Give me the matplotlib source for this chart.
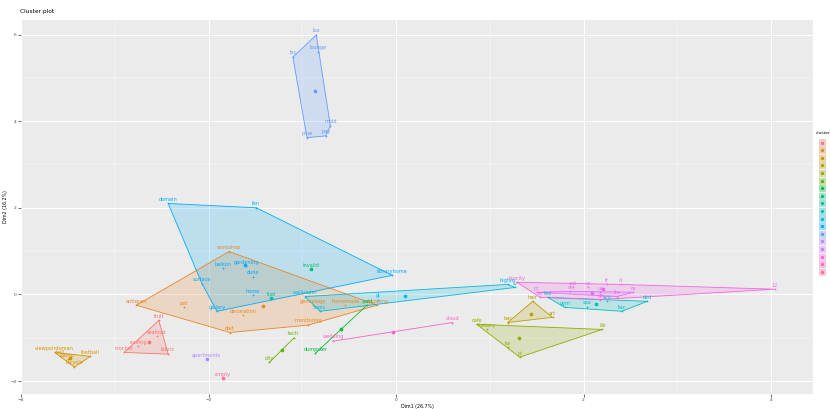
import numpy as np
import matplotlib
matplotlib.use("Agg")
import matplotlib.pyplot as plt
from matplotlib.patches import Polygon, Rectangle

# ---- data: word, Dim1, Dim2, cluster ----
words = [
    "fruit", "seafood", "roofing", "crochet", "fabric",
    "workshop", "antiques", "pet", "decoration", "diet", "monitoring",
    "genealogy", "homemade", "shopping",
    "viewpointoman", "ball", "camp", "football", "bicycle",
    "hair", "bar", "art",
    "cafe", "bakery", "bb", "pi", "tw",
    "tech", "city",
    "yard", "dumpster",
    "invalid",
    "fuel",
    "tea", "gym", "spa", "tax", "dvd", "eco",
    "wallpaper", "tools", "gl", "bigfan", "tv",
    "domain", "fan", "libraryhome", "gallery", "balkon", "gardening",
    "dune", "surface", "home",
    "lux", "loc", "lounge", "mold", "pay", "pine",
    "apartments",
    "pc", "ok", "ux", "fm", "os",
    "bigcity", "eat", "cc", "fr", "cl", "12", "re", "go",
    "wedding", "cloud",
    "empty",
]
dim1 = [
    -2.53, -2.55, -2.75, -2.90, -2.43,
    -1.78, -2.77, -2.26, -1.63, -1.77, -0.94,
    -0.89, -0.54, -0.20,
    -3.64, -3.58, -3.50, -3.26, -3.43,
    1.46, 1.19, 1.67,
    0.86, 0.97, 2.20, 1.32, 1.19,
    -1.09, -1.35,
    -0.31, -0.86,
    -0.91,
    -1.33,
    1.62, 1.80, 2.04, 2.41, 2.68, 2.25,
    -0.97, -0.81, -0.19, 1.19, 1.27,
    -2.43, -1.49, -0.04, -1.91, -1.85, -1.60,
    -1.53, -2.07, -1.53,
    -0.85, -1.10, -0.83, -0.70, -0.75, -0.95,
    -2.02,
    1.50, 1.86, 2.18, 2.36, 2.53,
    1.29, 1.89, 2.05, 2.25, 2.40, 4.04, 1.54, 2.18,
    -0.67, 0.60,
    -1.85,
]
dim2 = [
    -0.60, -0.97, -1.20, -1.34, -1.38,
    0.99, -0.25, -0.30, -0.48, -0.88, -0.71,
    -0.25, -0.25, -0.25,
    -1.34, -1.43, -1.50, -1.43, -1.68,
    -0.16, -0.65, -0.53,
    -0.69, -0.81, -0.81, -1.45, -1.22,
    -1.01, -1.57,
    -0.25, -1.36,
    0.58,
    -0.09,
    -0.07, -0.30, -0.28, -0.39, -0.16, -0.16,
    -0.05, -0.39, -0.12, 0.23, 0.16,
    2.10, 2.00, 0.44, -0.39, 0.60, 0.65,
    0.41, 0.25, -0.02,
    5.99, 5.48, 5.60, 3.89, 3.66, 3.62,
    -1.50,
    0.05, 0.07, 0.05, -0.05, 0.05,
    0.28, 0.16, 0.16, 0.23, 0.23, 0.12, -0.07, -0.12,
    -1.08, -0.65,
    -1.94,
]
cluster = (
    [1] * 5 + [2] * 9 + [3] * 5 + [4] * 3 + [5] * 5 + [6] * 2 + [7] * 2
    + [8] + [9] + [10] * 6 + [11] * 5 + [12] * 9 + [13] * 6 + [14]
    + [15] * 5 + [16] * 8 + [17] * 2 + [18]
)
n_clusters = 18
x_ticks = [-4, -2, 0, 2, 4]
y_ticks = [-2, 0, 2, 4, 6]


def hcl_to_hex(h, c=100.0, l=65.0):
    """Polar LUV (HCL) to sRGB hex, as used by ggplot's hue palette."""
    xn, yn, zn = 95.047, 100.0, 108.883
    un = 4 * xn / (xn + 15 * yn + 3 * zn)
    vn = 9 * yn / (xn + 15 * yn + 3 * zn)
    hr = np.deg2rad(h)
    u, v = c * np.cos(hr), c * np.sin(hr)
    Y = yn * ((l + 16) / 116) ** 3
    up = u / (13 * l) + un
    vp = v / (13 * l) + vn
    X = 9 * Y * up / (4 * vp)
    Z = -X / 3 - 5 * Y + 3 * Y / vp
    X, Y, Z = X / 100, Y / 100, Z / 100
    r = 3.240479 * X - 1.537150 * Y - 0.498535 * Z
    g = -0.969256 * X + 1.875992 * Y + 0.041556 * Z
    b = 0.055648 * X - 0.204043 * Y + 1.057311 * Z

    def gam(t):
        t = t * 12.92 if t <= 0.0031308 else 1.055 * t ** (1 / 2.4) - 0.055
        return min(max(t, 0.0), 1.0)

    return matplotlib.colors.to_hex((gam(r), gam(g), gam(b)))


hues = np.linspace(15, 375, n_clusters + 1)[:-1]
palette = [hcl_to_hex(h) for h in hues]


def convex_hull(pts):
    pts = sorted(set(map(tuple, pts)))
    if len(pts) <= 2:
        return pts

    def cross(o, a, b):
        return (a[0] - o[0]) * (b[1] - o[1]) - (a[1] - o[1]) * (b[0] - o[0])

    lower, upper = [], []
    for p in pts:
        while len(lower) >= 2 and cross(lower[-2], lower[-1], p) <= 0:
            lower.pop()
        lower.append(p)
    for p in reversed(pts):
        while len(upper) >= 2 and cross(upper[-2], upper[-1], p) <= 0:
            upper.pop()
        upper.append(p)
    return lower[:-1] + upper[:-1]


W, H = 830, 409
fig = plt.figure(figsize=(W / 100, H / 100), dpi=100)
fig.patch.set_facecolor("white")


def fx(px):
    return px / W


def fy(py):
    return 1 - py / H


ax = fig.add_axes([fx(21), fy(394), fx(813) - fx(21), fy(20) - fy(394)])
ax.set_facecolor("#EBEBEB")
ax.set_xlim(-4.0, 4.448)
ax.set_ylim(-2.30, 6.336)
for s in ax.spines.values():
    s.set_visible(False)

ax.set_xticks(x_ticks)
ax.set_yticks(y_ticks)
ax.set_xticks([-3, -1, 1, 3], minor=True)
ax.set_yticks([-1, 1, 3, 5], minor=True)
ax.grid(which="major", color="white", lw=0.7)
ax.grid(which="minor", color="white", lw=0.35)
ax.set_axisbelow(True)
ax.tick_params(which="major", length=2, width=0.5, color="#333333",
               labelsize=3.2, labelcolor="#4D4D4D", pad=1.0)
ax.tick_params(which="minor", length=0)

dim1 = np.array(dim1)
dim2 = np.array(dim2)
cluster = np.array(cluster)

for k in range(1, n_clusters + 1):
    m = cluster == k
    col = palette[k - 1]
    xs, ys = dim1[m], dim2[m]
    hull = convex_hull(np.column_stack([xs, ys]))
    if len(hull) >= 3:
        ax.add_patch(Polygon(hull, closed=True, facecolor=col, alpha=0.2,
                             edgecolor="none", zorder=2))
        ax.add_patch(Polygon(hull, closed=True, facecolor="none",
                             edgecolor=col, lw=0.6, zorder=3))
    elif len(hull) == 2:
        ax.plot([hull[0][0], hull[1][0]], [hull[0][1], hull[1][1]],
                color=col, lw=0.6, zorder=3)
    ax.scatter(xs, ys, s=1.6, color=col, zorder=4, linewidths=0)
    ax.scatter([xs.mean()], [ys.mean()], s=7, color=col, zorder=5,
               linewidths=0)
    for w, xv, yv in zip(np.array(words)[m], xs, ys):
        ax.annotate(w, (xv, yv), xytext=(0, 1.2), textcoords="offset points",
                    ha="center", va="bottom", fontsize=3.6, color=col,
                    zorder=6)

ax.set_xlabel("Dim1 (26.7%)", fontsize=3.4, color="black", labelpad=1.0)
ax.set_ylabel("Dim2 (16.2%)", fontsize=3.4, color="black", labelpad=1.5)

fig.text(fx(20), fy(12), "Cluster plot", fontsize=4.2, color="black",
         ha="left", va="center")

# legend keys for the cluster colours
fig.text(fx(816), fy(133), "cluster", fontsize=3.2, ha="left", va="center")
key_top, key_step, key_w = 139, 7.6, 7.2
for i, col in enumerate(palette):
    y0 = key_top + i * key_step
    fig.add_artist(Rectangle((fx(818.5), fy(y0 + key_w)),
                             fx(key_w), fy(y0) - fy(y0 + key_w),
                             transform=fig.transFigure, facecolor="#F2F2F2",
                             edgecolor="none"))
    fig.add_artist(Rectangle((fx(819), fy(y0 + key_w - 0.5)),
                             fx(key_w - 1), fy(y0 + 0.5) - fy(y0 + key_w - 0.5),
                             transform=fig.transFigure, facecolor=col,
                             alpha=0.3, edgecolor=col, lw=0.5))
    fig.add_artist(plt.Line2D([fx(822.1)], [fy(y0 + key_w / 2)],
                              transform=fig.transFigure, marker="o",
                              markersize=1.3, color=col, lw=0))

fig.savefig("out.png", dpi=100)
